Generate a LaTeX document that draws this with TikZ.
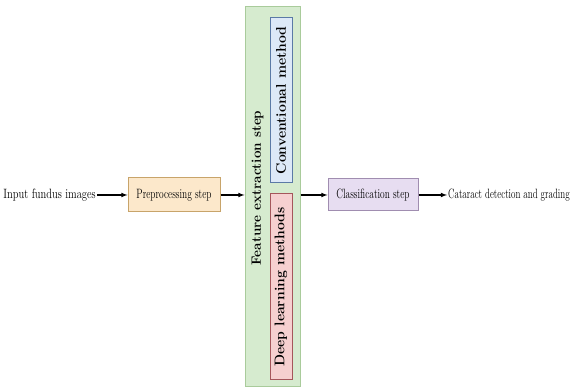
\documentclass[tikz,border=0pt]{standalone}
\usepackage{xcolor}
\usepackage{graphicx}
\usepackage{tikz}
\usetikzlibrary{arrows,positioning}

\definecolor{preFill}{HTML}{FCE8CB}
\definecolor{preLine}{HTML}{C8A46A}
\definecolor{featFill}{HTML}{D6EBCF}
\definecolor{featLine}{HTML}{A9CB9B}
\definecolor{convFill}{HTML}{DDE9F7}
\definecolor{convLine}{HTML}{5B7AA6}
\definecolor{deepFill}{HTML}{F6D0D0}
\definecolor{deepLine}{HTML}{A5565B}
\definecolor{clsFill}{HTML}{E7DDF1}
\definecolor{clsLine}{HTML}{A08DB0}

\newcommand{\squeezed}[2][0.7]{\scalebox{#1}[1]{\fontsize{13.5}{15}\selectfont #2}}

\begin{document}
\begin{tikzpicture}[
			x=1pt, y=1pt,
			stepbox/.style={draw, line width=1pt, inner sep=0pt, minimum width=92pt, minimum height=34pt},
			sidebox/.style={draw, line width=1pt, inner sep=0pt, rotate=90, minimum height=22pt,
				font=\fontsize{14}{15}\selectfont\bfseries},
			flow/.style={-latex, line width=1.1pt}
			]

				\useasboundingbox (0,0) rectangle (574,390);

				\node[anchor=east, inner sep=1pt] (input) at (97,195) {\squeezed[0.78]{Input fundus images}};
				\node[stepbox, fill=preFill, draw=preLine] (pre) at (174,195) {\squeezed{Preprocessing step}};

				\node[draw=featLine, fill=featFill, line width=1pt, minimum width=55pt, minimum height=380pt] (feat) at (272.5,193) {};
				\node[rotate=90, font=\fontsize{13.5}{15}\selectfont\bfseries] (featlabel) at (257.5,202) {Feature extraction step};
				\node[sidebox, fill=convFill, draw=convLine, minimum width=165pt] (conv) at (281,289.5) {Conventional method};
				\node[sidebox, fill=deepFill, draw=deepLine, minimum width=186pt] (deep) at (281,103) {Deep learning methods};

				\node[stepbox, fill=clsFill, draw=clsLine, minimum width=90pt, minimum height=32pt] (cls) at (373,195) {\squeezed{Classification step}};
				\node[anchor=west, inner sep=1pt] (output) at (447,195) {\squeezed[0.67]{Cataract detection and grading}};

				\draw[flow] (input) -- (pre);
				\draw[flow] (pre.east) -- (pre.east -| feat.west);
				\draw[flow] (cls.west -| feat.east) -- (cls.west);
				\draw[flow] (cls) -- (output);

			\end{tikzpicture}
\end{document}
